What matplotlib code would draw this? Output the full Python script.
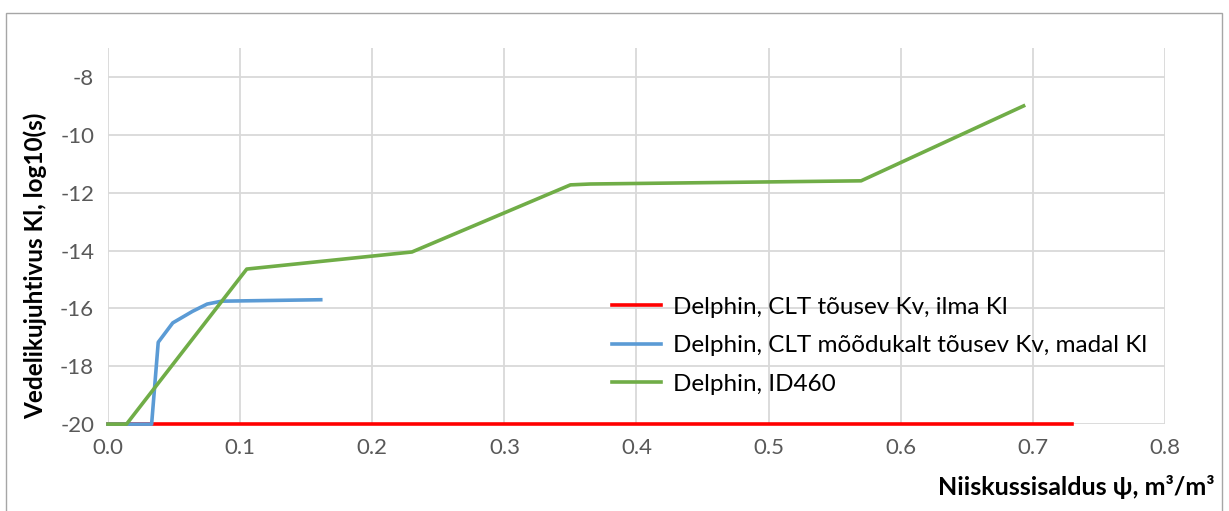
import matplotlib.pyplot as plt
from matplotlib.patches import Rectangle

# Andmed (loetud graafikult)
red_x = [0.0, 0.73]
red_y = [-20.0, -20.0]

blue_x = [0.0, 0.033, 0.038, 0.049, 0.064, 0.075, 0.086, 0.161]
blue_y = [-20.0, -20.0, -17.17, -16.5, -16.1, -15.85, -15.75, -15.7]

green_x = [0.0, 0.014, 0.105, 0.23, 0.35, 0.365, 0.57, 0.693]
green_y = [-20.0, -20.0, -14.64, -14.05, -11.73, -11.7, -11.59, -9.0]

labels = [
    "Delphin, CLT tõusev Kv, ilma Kl",
    "Delphin, CLT mõõdukalt tõusev Kv, madal Kl",
    "Delphin, ID460",
]
x_ticks = [0.0, 0.1, 0.2, 0.3, 0.4, 0.5, 0.6, 0.7, 0.8]
y_ticks = [-20, -18, -16, -14, -12, -10, -8]

plt.rcParams["font.family"] = ["Lato", "DejaVu Sans"]
plt.rcParams["axes.unicode_minus"] = False

fig = plt.figure(figsize=(12.29, 5.11), dpi=100)
ax = fig.add_axes([0.0879, 0.170, 0.860, 0.736])

# Välimine raam nagu Excelis
fig.patches.append(Rectangle((0.005, -0.01), 0.989, 0.985, transform=fig.transFigure,
                             fill=False, edgecolor="#a6a6a6", linewidth=1.0))

ax.plot(red_x, red_y, color="#ff0000", lw=2.6, label=labels[0], zorder=3, clip_on=False)
ax.plot(blue_x, blue_y, color="#5b9bd5", lw=2.6, label=labels[1], zorder=3, clip_on=False)
ax.plot(green_x, green_y, color="#70ad47", lw=2.6, label=labels[2], zorder=3, clip_on=False)

ax.set_xlim(0, 0.8)
ax.set_ylim(-20, -7)
ax.set_xticks(x_ticks)
ax.set_xticklabels([f"{v:.1f}" for v in x_ticks])
ax.set_yticks(y_ticks)
ax.grid(True, color="#d9d9d9", lw=1.3)
ax.set_axisbelow(True)
for s in ax.spines.values():
    s.set_visible(False)
ax.tick_params(length=0, labelsize=16, colors="#595959", pad=10)

fig.text(0.029, 0.479, "Vedelikujuhtivus Kl, log10(s)", rotation=90, ha="center", va="center",
         fontsize=17.5, fontweight="bold")
fig.text(0.988, 0.047, "Niiskussisaldus ψ, m³/m³", ha="right", va="center",
         fontsize=18, fontweight="bold")

ax.legend(loc="upper left", bbox_to_anchor=(0.477, 0.339), frameon=False, fontsize=17.5,
          handlelength=2.0, labelspacing=0.72, handletextpad=0.5, borderpad=0,
          borderaxespad=0)

fig.savefig("out.png", dpi=100)
